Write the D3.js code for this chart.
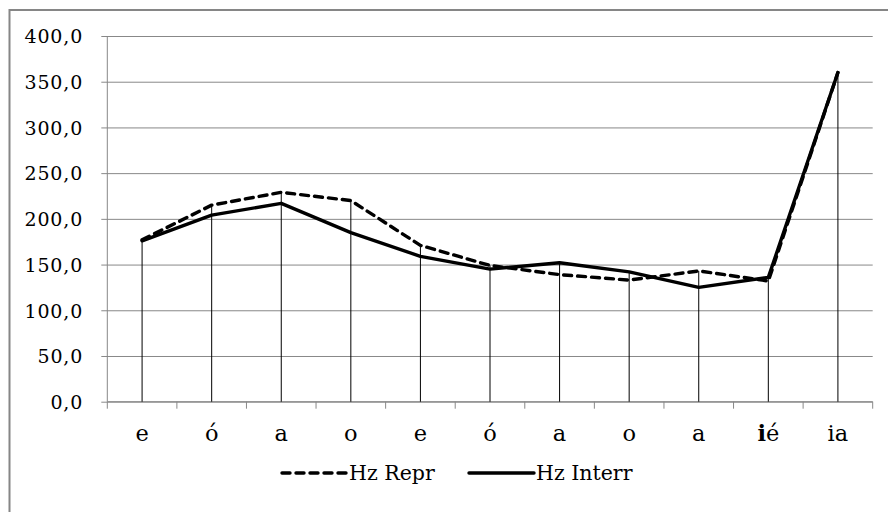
<!DOCTYPE html>
<html><head><meta charset="utf-8">
<script src="https://cdn.jsdelivr.net/npm/d3@7"></script>
<style>
html,body{margin:0;padding:0;background:#fff;}
svg{display:block;}
text{font-family:"DejaVu Serif","Liberation Serif",serif;fill:#000;}
</style></head>
<body>
<svg id="chart" width="888" height="512"></svg>
<script>
const categories = ["e","ó","a","o","e","ó","a","o","a","ié","ia"];
const hzRepr   = [177, 215, 229, 220, 171, 149, 139, 133, 143, 132, 360];
const hzInterr = [176, 204, 217, 185, 159, 145, 152, 142, 125, 136, 360];
const yTicks = [0,50,100,150,200,250,300,350,400];
const seriesNames = ["Hz Repr","Hz Interr"];

const svg = d3.select("#chart");
const L = 107.3, R = 872.7, T = 36, B = 401.7;

// outer border
svg.append("rect").attr("x",9.5).attr("y",10).attr("width",890).attr("height",520)
  .attr("fill","none").attr("stroke","#868686").attr("stroke-width",2);

const idx = categories.map((d,i)=>i);
const x = d3.scaleBand().domain(idx).range([L,R]).paddingInner(0).paddingOuter(0);
const y = d3.scaleLinear().domain([0,400]).range([B,T]);
const cx = i => x(i) + x.bandwidth()/2;

// gridlines + y axis
const yAxis = d3.axisLeft(y).tickValues(yTicks).tickSize(-(R-L)).tickPadding(24)
  .tickFormat(d => d3.format(".1f")(d).replace(".",","));
const gy = svg.append("g").attr("transform",`translate(${L},0)`).call(yAxis);
gy.attr("font-size",null).attr("font-family",null);
gy.select(".domain").remove();
gy.selectAll(".tick line").attr("stroke","#888").attr("x1",-6).attr("stroke-width",1);
gy.selectAll(".tick text").style("font-size","19px").attr("letter-spacing","0.9px").attr("dy","0.36em");
svg.append("line").attr("x1",L).attr("x2",L).attr("y1",T).attr("y2",B)
  .attr("stroke","#888");

// x axis
svg.append("line").attr("x1",L).attr("x2",R).attr("y1",B).attr("y2",B).attr("stroke","#888");
const bounds = idx.map(i=>x(i)).concat([R]);
svg.append("g").selectAll("line").data(bounds).join("line")
  .attr("x1",d=>d).attr("x2",d=>d).attr("y1",B).attr("y2",B+7).attr("stroke","#888");
const xl = svg.append("g").selectAll("text").data(categories).join("text")
  .attr("x",(d,i)=>cx(i)).attr("y",441).attr("text-anchor","middle")
  .style("font-size","22.5px");
xl.each(function(d){
  const t = d3.select(this);
  if(d==="ié"){
    t.append("tspan").attr("font-weight","bold").text("i");
    t.append("tspan").text("é");
  } else t.text(d);
});

// drop lines
svg.append("g").selectAll("line").data(idx).join("line")
  .attr("x1",i=>cx(i)).attr("x2",i=>cx(i))
  .attr("y1",i=>y(Math.max(hzRepr[i],hzInterr[i]))).attr("y2",B)
  .attr("stroke","#000").attr("stroke-width",1);

// lines
const line = d3.line().x((d,i)=>cx(i)).y(d=>y(d)).curve(d3.curveLinear);
svg.append("path").datum(hzInterr).attr("d",line).attr("fill","none")
  .attr("stroke","#000").attr("stroke-width",3.4).attr("stroke-linejoin","round").attr("stroke-linecap","round");
svg.append("path").datum(hzRepr).attr("d",line).attr("fill","none")
  .attr("stroke","#000").attr("stroke-width",3.4).attr("stroke-dasharray","8,6")
  .attr("stroke-linecap","round").attr("stroke-linejoin","round");

// legend
const leg = svg.append("g");
const ly = 473;
leg.append("line").attr("x1",282).attr("x2",346).attr("y1",ly).attr("y2",ly)
  .attr("stroke","#000").attr("stroke-width",3.4).attr("stroke-dasharray","8,6").attr("stroke-linecap","round");
leg.append("text").attr("x",349).attr("y",ly).attr("dy","0.35em").style("font-size","20.5px").text(seriesNames[0]);
leg.append("line").attr("x1",469).attr("x2",534).attr("y1",ly).attr("y2",ly)
  .attr("stroke","#000").attr("stroke-width",3.4).attr("stroke-linecap","round");
leg.append("text").attr("x",536).attr("y",ly).attr("dy","0.35em").style("font-size","20.5px").text(seriesNames[1]);
</script>
</body></html>
